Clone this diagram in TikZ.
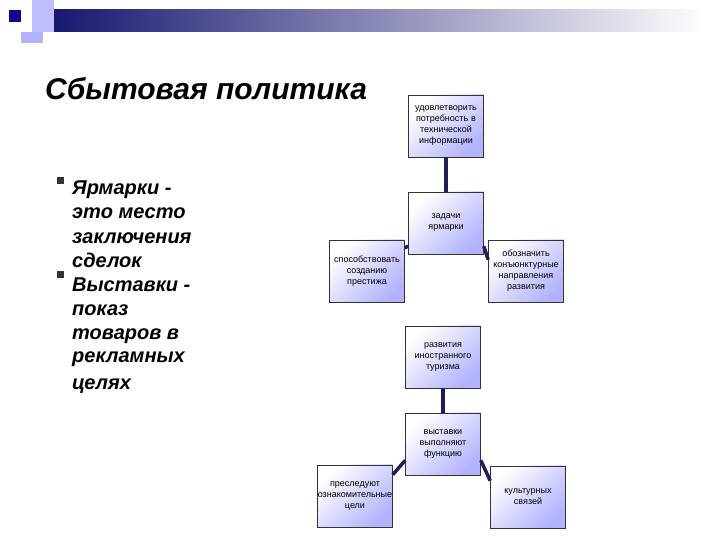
\documentclass[tikz,border=0pt]{standalone}
\usepackage{fontspec}
\setmainfont{Liberation Sans}
\definecolor{navy}{RGB}{30,30,90}
\definecolor{bardark}{RGB}{20,20,110}
\definecolor{sqdark}{RGB}{10,10,140}
\begin{document}
\begin{tikzpicture}[x=1pt,y=1pt,
  bx/.style={draw=black!80,line width=0.6pt,minimum width=63pt,minimum height=62pt,inner sep=0pt,
    left color=white,right color=blue!30!white,shading angle=45,font=\fontsize{9}{11}\selectfont,align=center,text width=75pt},
  ln/.style={draw=navy,line width=3.5pt},
  bl/.style={font=\fontsize{20}{24}\selectfont\bfseries\itshape,anchor=base west}]
\useasboundingbox (0,0) rectangle (720,540);
% decoration
\shade[left color=bardark,right color=white] (43,508) rectangle (705,530);
\fill[blue!25!white] (32,508) rectangle (54,540);
\fill[blue!30!white] (21,497) rectangle (43,508);
\fill[sqdark] (9,518) rectangle (21,530);
% title
\node[font=\fontsize{30}{36}\selectfont\bfseries\itshape,anchor=base west,inner sep=0pt] (title) at (45,440) {Сбытовая политика};
% bullets
\fill[black!80] (57,356) rectangle (64,363);
\fill[black!80] (57,262) rectangle (64,269);
\node[bl,inner sep=0pt] (l1) at (72,345) {Ярмарки -};
\node[bl,inner sep=0pt] (l2) at (72,321) {это место};
\node[bl,inner sep=0pt] (l3) at (72,296) {заключения};
\node[bl,inner sep=0pt] (l4) at (72,272) {сделок};
\node[bl,inner sep=0pt] (l5) at (72,248) {Выставки -};
\node[bl,inner sep=0pt] (l6) at (72,224) {показ};
\node[bl,inner sep=0pt] (l7) at (72,200) {товаров в};
\node[bl,inner sep=0pt] (l8) at (72,177) {рекламных};
\node[bl,inner sep=0pt] (l9) at (72,150) {целях};
% boxes
\node[bx] (t1) at (446,414) {удовлетворить\\потребность в\\технической\\информации};
\node[bx] (z) at (446,317) {задачи\\ярмарки};
\node[bx] (s) at (367,269) {способствовать\\созданию\\престижа};
\node[bx] (o) at (526,269) {обозначить\\конъюнктурные\\направления\\развития};
\node[bx] (r) at (443,183) {развития\\иностранного\\туризма};
\node[bx] (v) at (443,96) {выставки\\выполняют\\функцию};
\node[bx] (p) at (355,44) {преследуют\\ознакомительные\\цели};
\node[bx] (k) at (528,43) {культурных\\связей};
\draw[ln] (t1.south) -- (z.north);
\draw[ln] ([yshift=8pt]z.south west) -- ([yshift=-8pt]s.north east);
\draw[ln] ([yshift=8pt]z.south east) -- ([yshift=-20pt]o.north west);
\draw[ln] (r.south) -- (v.north);
\draw[ln] ([yshift=15pt]v.south west) -- ([yshift=-10pt]p.north east);
\draw[ln] ([yshift=15pt]v.south east) -- ([yshift=-15pt]k.north west);
\end{tikzpicture}
\end{document}
